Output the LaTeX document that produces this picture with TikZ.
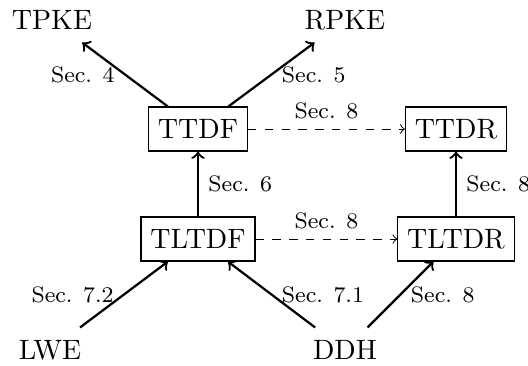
\documentclass[tikz,border=0pt]{standalone}
\begin{document}
\begin{tikzpicture}[x=0.357pt,y=-0.357pt,
  box/.style={draw, line width=0.4pt, minimum height=15.7pt, inner sep=3.33pt},
  plain/.style={minimum height=15.7pt, inner sep=3.33pt},
  arr/.style={->, line width=0.8pt},
  darr/.style={->, dashed, line width=0.35pt},
  lab/.style={font=\footnotesize, midway}]
\useasboundingbox (0,0) rectangle (528,365);
\node[plain] (tpke) at (52,20) {TPKE};
\node[plain] (rpke) at (345,20) {RPKE};
\node[box] (ttdf) at (198,129) {TTDF};
\node[box] (ttdr) at (456,129) {TTDR};
\node[box] (tltdf) at (198,239) {TLTDF};
\node[box] (tltdr) at (456,239) {TLTDR};
\node[plain] (lwe) at (50,350) {LWE};
\node[plain] (ddh) at (345,350) {DDH};
\draw[arr] (ttdf) -- node[lab,left] {Sec. 4} (tpke);
\draw[arr] (ttdf) -- node[lab,right] {Sec. 5} (rpke);
\draw[darr] (ttdf) -- node[lab,above] {Sec. 8} (ttdr);
\draw[arr] (tltdf) -- node[lab,right] {Sec. 6} (ttdf);
\draw[arr] (tltdr) -- node[lab,right] {Sec. 8} (ttdr);
\draw[darr] (tltdf) -- node[lab,above] {Sec. 8} (tltdr);
\draw[arr] (lwe) -- node[lab,left] {Sec. 7.2} (tltdf);
\draw[arr] (ddh) -- node[lab,right] {Sec. 7.1} (tltdf);
\draw[arr] (ddh) -- node[lab,right] {Sec. 8} (tltdr);
\end{tikzpicture}
\end{document}
